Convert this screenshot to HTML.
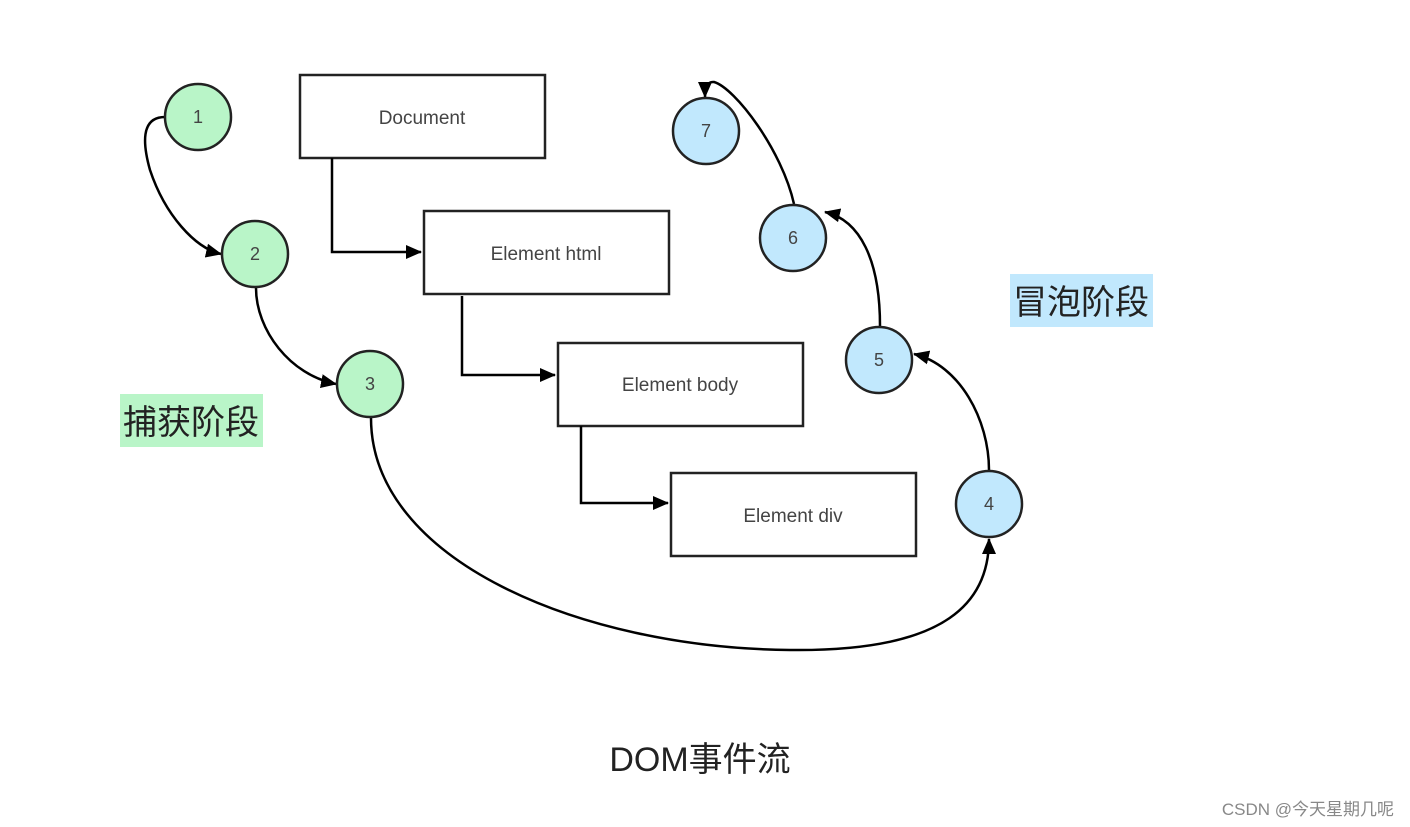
<!DOCTYPE html>
<html><head><meta charset="utf-8"><style>
html,body{margin:0;padding:0;background:#fff;}
svg{display:block;}
text{font-family:"Liberation Sans","Noto Sans CJK SC",sans-serif;}
</style></head><body>
<svg width="1410" height="827" viewBox="0 0 1410 827" xmlns="http://www.w3.org/2000/svg">
<defs>
<marker id="b" markerWidth="16" markerHeight="16" refX="15" refY="8" orient="auto" markerUnits="userSpaceOnUse" viewBox="0 0 16 16">
<path d="M0,1 L16,8 L0,15 z" fill="#000"/></marker>
</defs>
<rect width="1410" height="827" fill="#fff"/>
<g fill="#fff" stroke="#222" stroke-width="2.5">
<rect x="300" y="75" width="245" height="83"/>
<rect x="424" y="211" width="245" height="83"/>
<rect x="558" y="343" width="245" height="83"/>
<rect x="671" y="473" width="245" height="83"/>
</g>
<g fill="none" stroke="#000" stroke-width="2.5">
<path d="M332,158 V252 H421" marker-end="url(#b)"/>
<path d="M462,296 V375 H555" marker-end="url(#b)"/>
<path d="M581,426 V503 H668" marker-end="url(#b)"/>
<path d="M165,117 C140,117 143,145 150,170 C165,215 195,248 221,254" marker-end="url(#b)"/>
<path d="M256,288 C256,330 290,375 336,384" marker-end="url(#b)"/>
<path d="M371,418 C371,560 580,648 790,650 C950,652 989,600 989,539" marker-end="url(#b)"/>
<path d="M989,470 C989,420 960,365 914,354" marker-end="url(#b)"/>
<path d="M880,326 C880,260 860,220 825,212" marker-end="url(#b)"/>
<path d="M794,204 C782,150 735,88 714,82 Q705,81 705,97" marker-end="url(#b)"/>
</g>
<g stroke="#222" stroke-width="2.5">
<circle cx="198" cy="117" r="33" fill="#b9f5c8"/>
<circle cx="255" cy="254" r="33" fill="#b9f5c8"/>
<circle cx="370" cy="384" r="33" fill="#b9f5c8"/>
<circle cx="989" cy="504" r="33" fill="#c1e8fd"/>
<circle cx="879" cy="360" r="33" fill="#c1e8fd"/>
<circle cx="793" cy="238" r="33" fill="#c1e8fd"/>
<circle cx="706" cy="131" r="33" fill="#c1e8fd"/>
</g>
<g font-size="18" fill="#444" text-anchor="middle">
<text x="198" y="123">1</text>
<text x="255" y="260">2</text>
<text x="370" y="390">3</text>
<text x="989" y="510">4</text>
<text x="879" y="366">5</text>
<text x="793" y="244">6</text>
<text x="706" y="137">7</text>
<text x="422" y="124" font-size="19">Document</text>
<text x="546" y="260" font-size="19">Element html</text>
<text x="680" y="391" font-size="19">Element body</text>
<text x="793" y="522" font-size="19">Element div</text>
</g>
<rect x="120" y="394" width="143" height="53" fill="#b9f5c8"/>
<text x="191" y="434" font-size="34" fill="#222" text-anchor="middle">捕获阶段</text>
<rect x="1010" y="274" width="143" height="53" fill="#c1e8fd"/>
<text x="1081" y="314" font-size="34" fill="#222" text-anchor="middle">冒泡阶段</text>
<text x="700" y="771" font-size="34" fill="#222" text-anchor="middle">DOM事件流</text>
<text x="1394" y="815" font-size="17" fill="#888" text-anchor="end">CSDN @今天星期几呢</text>
</svg>
</body></html>
